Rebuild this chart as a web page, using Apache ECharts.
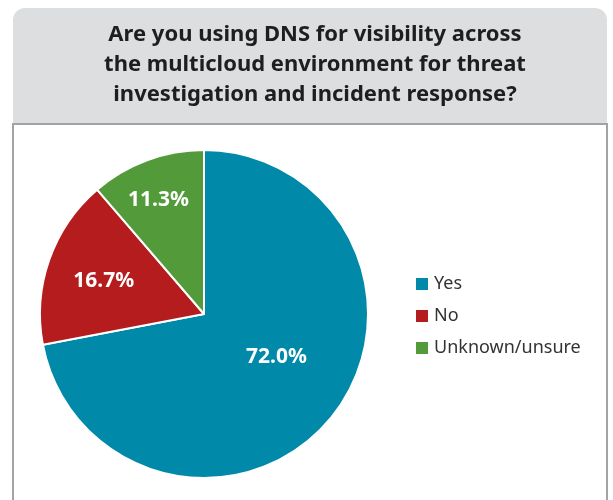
<!DOCTYPE html>
<html>
<head>
<meta charset="utf-8">
<script src="https://cdn.jsdelivr.net/npm/echarts@6/dist/echarts.min.js"></script>
<style>
  html, body { margin: 0; padding: 0; background: #ffffff; }
  #chart { width: 613px; height: 500px; }
</style>
</head>
<body>
<div id="chart"></div>
<script>
// Survey answers and their shares (percent)
const categories = ['Yes', 'No', 'Unknown/unsure'];
const shares = [72.0, 16.7, 11.3];
const sliceColors = ['#0089a8', '#b51c1d', '#539a3b'];
// nudges that move each in-slice label off the default mid-radius spot
const labelNudges = [[7, -11], [-20, -5], [-16, -34]];

const titleText = 'Are you using DNS for visibility across\nthe multicloud environment for threat\ninvestigation and incident response?';

const chart = echarts.init(document.getElementById('chart'), null, { renderer: 'canvas' });

const pieData = categories.map((name, i) => ({
  name: name,
  value: shares[i],
  itemStyle: { color: sliceColors[i] },
  label: { offset: labelNudges[i] }
}));

chart.setOption({
  animation: false,
  backgroundColor: '#ffffff',
  graphic: [
    {
      type: 'rect',
      z: -10,
      shape: { x: 13, y: 8, width: 594, height: 116, r: [12, 12, 0, 0] },
      style: { fill: '#dddee0' }
    },
    {
      type: 'rect',
      z: -9,
      shape: { x: 13, y: 124, width: 594, height: 400 },
      style: { fill: '#ffffff', stroke: '#a3a3a3', lineWidth: 2 }
    }
  ],
  title: {
    text: titleText,
    left: 310,
    top: 15,
    textAlign: 'center',
    textStyle: {
      fontFamily: 'Noto Sans',
      fontWeight: 'bold',
      fontSize: 22,
      lineHeight: 30,
      color: '#1e1e1e'
    }
  },
  legend: {
    orient: 'vertical',
    left: 409,
    top: 270,
    icon: 'rect',
    itemWidth: 14,
    itemHeight: 14,
    itemGap: 14,
    selectedMode: false,
    textStyle: {
      fontFamily: 'Noto Sans',
      fontSize: 18,
      color: '#333333',
      padding: [0, 0, 0, 0]
    },
    data: categories
  },
  series: [
    {
      type: 'pie',
      center: [204, 314],
      radius: 164,
      startAngle: 90,
      clockwise: true,
      itemStyle: { borderColor: '#ffffff', borderWidth: 2 },
      label: {
        show: true,
        position: 'inside',
        formatter: p => p.value.toFixed(1) + '%',
        color: '#ffffff',
        fontFamily: 'Noto Sans',
        fontWeight: 'bold',
        fontSize: 21
      },
      labelLine: { show: false },
      emphasis: { disabled: true },
      data: pieData
    }
  ]
});
</script>
</body>
</html>
